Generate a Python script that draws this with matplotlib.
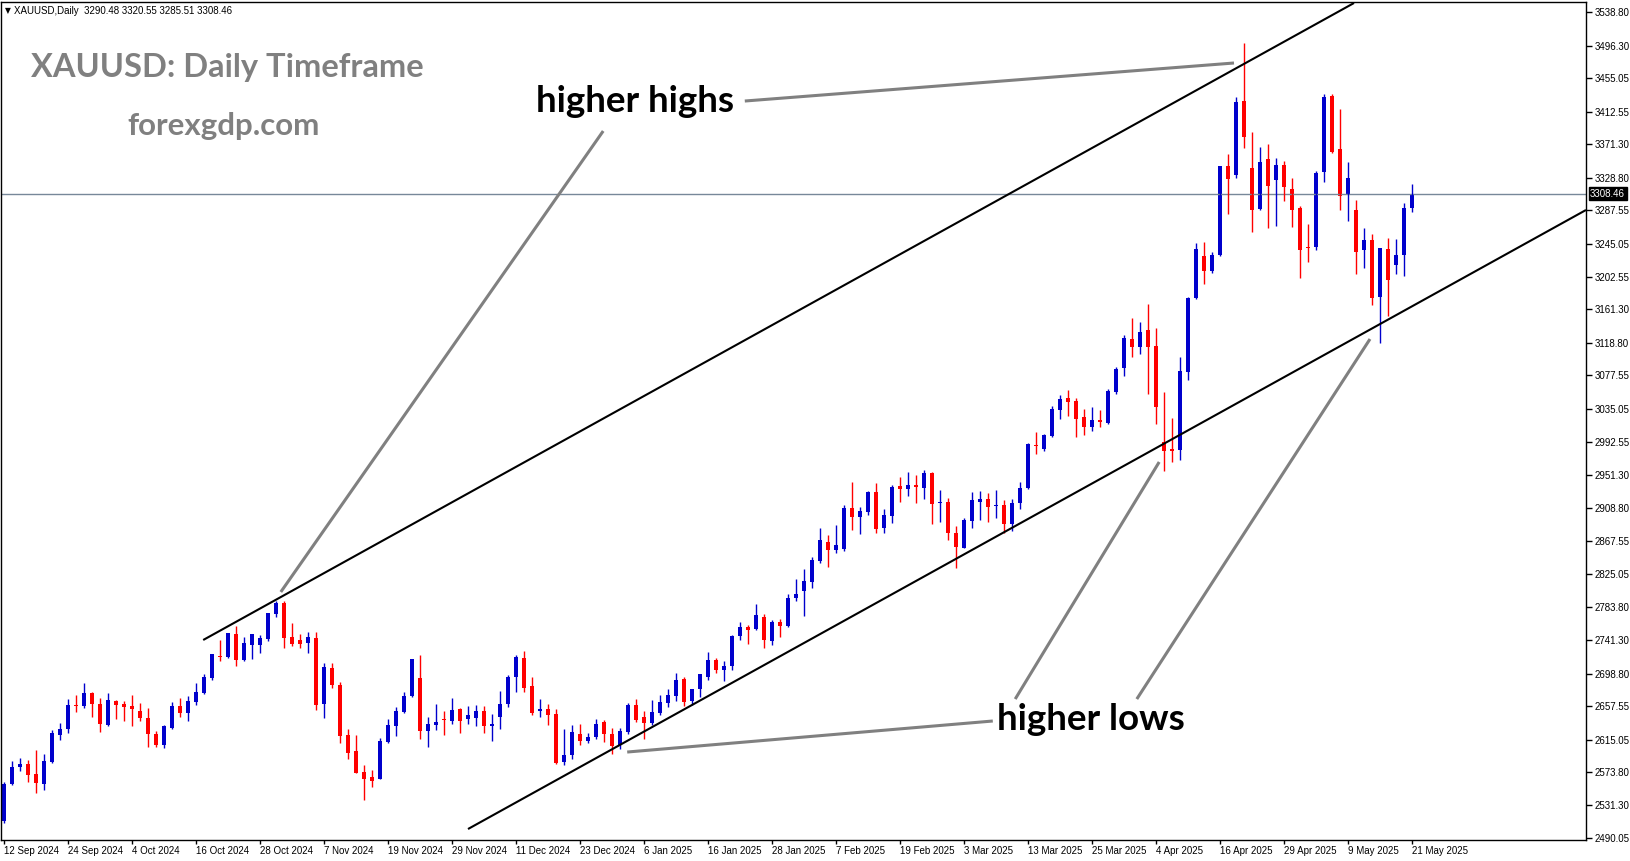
import numpy as np
import matplotlib.pyplot as plt

# XAUUSD daily candles, 12 Sep 2024 .. 21 May 2025
opens = [2511, 2558.6, 2580.6, 2584, 2571, 2559, 2586, 2621, 2628.8, 2659,
         2658, 2674, 2660, 2633.5, 2664, 2660, 2657.7, 2651.3, 2643, 2622.4,
         2608, 2629.7, 2657.7, 2649, 2662.7, 2674, 2692.7, 2721.5, 2719.9, 2749,
         2716.5, 2735.2, 2735, 2742.7, 2774.5, 2788.5, 2745, 2741, 2737.8, 2744,
         2660, 2706, 2684.5, 2620.8, 2600, 2573.5, 2567, 2564.6, 2612, 2632.2,
         2650, 2670, 2693, 2626, 2633.5, 2640.5, 2639, 2653.8, 2641, 2642.7,
         2651.3, 2632, 2643.7, 2660.6, 2694, 2718, 2683, 2651.3, 2653.8, 2647.5,
         2586.3, 2595, 2622, 2613, 2618, 2637, 2621.7, 2608, 2624.6, 2659,
         2643.7, 2636, 2648.7, 2661.8, 2670, 2692, 2664, 2679, 2694.6, 2716,
         2703.3, 2708.3, 2746.4, 2757.8, 2755, 2770.6, 2740.3, 2764.5, 2759.5, 2795,
         2803.6, 2815, 2841.5, 2865.6, 2855.4, 2856.7, 2908.8, 2897.4, 2904, 2929.4,
         2883.7, 2898.8, 2937, 2933, 2939, 2934.5, 2953.5, 2915, 2917.4, 2878,
         2858, 2893, 2917.4, 2920, 2912, 2912.4, 2889, 2916, 2934.2, 2989,
         2984, 3000.5, 3033.5, 3048.8, 3044.9, 3024.6, 3011.9, 3020.8, 3017, 3056.3,
         3086.8, 3123.6, 3113.5, 3135, 3115.3, 2992.9, 2983.5, 2982.8, 3081.7, 3175.7,
         3229, 3209.9, 3230.2, 3343.3, 3331.8, 3425.8, 3341, 3288.8, 3352.4, 3325.7,
         3344.6, 3314, 3290, 3240.5, 3240.5, 3335.8, 3432.2, 3365, 3307.7, 3287.5,
         3236.7, 3249.4, 3177, 3238, 3217.6, 3230.2, 3290.48]
highs = [2561, 2588, 2591.6, 2589, 2601.8, 2596.7, 2627, 2636, 2666.6, 2671.6,
         2687.1, 2675.7, 2667.9, 2674, 2665, 2664, 2671.6, 2661, 2655, 2625.7,
         2633.5, 2662.7, 2667.9, 2670, 2687, 2698, 2724, 2741.6, 2751, 2759.3,
         2745, 2749.5, 2748, 2775.7, 2791, 2791, 2763, 2749, 2751.8, 2751.8,
         2712, 2712, 2688, 2628.5, 2620.8, 2582.5, 2577, 2617, 2641, 2656,
         2675.7, 2717, 2722.5, 2643.7, 2660, 2651.3, 2667.9, 2654.5, 2657.7, 2659,
         2657.7, 2647.5, 2677, 2697, 2722, 2727.6, 2694, 2666.6, 2660, 2653.8,
         2628.5, 2633.5, 2634.8, 2623.4, 2641, 2640, 2629.7, 2629.7, 2661.8, 2666.6,
         2651.3, 2665.3, 2671.6, 2679, 2699.6, 2694.6, 2679.5, 2698.5, 2726, 2718.6,
         2714.8, 2747.7, 2764, 2760.4, 2787.4, 2774.4, 2767, 2768.2, 2800, 2819,
         2831.6, 2846.6, 2883.5, 2874.6, 2887.4, 2912.6, 2942.6, 2910, 2930.7, 2940.8,
         2907.6, 2938, 2948, 2955, 2951, 2957, 2955, 2931.9, 2922.5, 2886,
         2896, 2929.4, 2930.7, 2928, 2931.9, 2919, 2920, 2942, 2992, 3005.6,
         3003, 3038.6, 3052.6, 3058.9, 3048.8, 3034.8, 3037.3, 3033.5, 3060, 3088,
         3128.7, 3150.3, 3145.2, 3168, 3137.6, 3056.3, 3023, 3101, 3177, 3245.6,
         3247, 3234, 3343.3, 3358.5, 3430.9, 3500, 3386.7, 3367.7, 3371.5, 3353.7,
         3349.9, 3328.3, 3292.5, 3269.7, 3337, 3434.9, 3434.9, 3415.6, 3348.6, 3300,
         3264.6, 3257, 3239, 3252, 3250.7, 3296.3, 3320.55]
lows = [2509, 2557, 2575.5, 2561, 2547.5, 2551, 2584.9, 2614, 2623.8, 2650.4,
        2655.5, 2644, 2625, 2632, 2641, 2639, 2632, 2639, 2606, 2606,
        2604.7, 2628.4, 2644, 2639, 2659, 2673, 2691, 2715, 2719, 2709,
        2715, 2717, 2725, 2740, 2770.6, 2731, 2734, 2731, 2725, 2652.5,
        2643, 2680.6, 2611, 2590, 2572, 2538, 2554.5, 2564.6, 2610.7, 2619.5,
        2648.7, 2668.7, 2616, 2605.5, 2627, 2621, 2635, 2623, 2635, 2632,
        2623, 2613, 2628, 2656, 2675, 2675, 2646, 2643.7, 2633.5, 2584,
        2582.5, 2590, 2608, 2610.7, 2615.7, 2612, 2597, 2603.4, 2622, 2637.4,
        2616, 2633.5, 2646, 2656, 2664, 2657.7, 2659, 2669, 2690.8, 2699.6,
        2689, 2703.3, 2741.6, 2736.5, 2754, 2731, 2735, 2745.4, 2758, 2791,
        2772, 2808, 2839, 2833.7, 2851.7, 2854, 2880.8, 2876, 2900, 2877,
        2878, 2890, 2917, 2924, 2915, 2921, 2889, 2891.4, 2868, 2832.4,
        2858, 2883.7, 2893.7, 2891.4, 2896, 2878, 2880, 2908, 2933, 2977.8,
        2981.5, 2999, 3022, 3026, 2999, 3002, 3006.8, 3011.9, 3016, 3053.8,
        3076.6, 3100.8, 3104.6, 3053.8, 3015.7, 2956, 2967, 2970, 3071.5, 3174,
        3193.4, 3208, 3229, 3282.4, 3328, 3366, 3259.5, 3287.5, 3264.6, 3267,
        3298.9, 3266, 3201, 3221.4, 3236.7, 3323, 3359.7, 3287.5, 3273.3, 3207,
        3213.8, 3166.8, 3119, 3153, 3206, 3203.5, 3285.51]
closes = [2559, 2580.6, 2584, 2570.4, 2560, 2587.8, 2623.3, 2629, 2658.8, 2658,
          2674, 2660.6, 2635, 2665.3, 2659, 2656.8, 2653.8, 2642.8, 2622, 2608.5,
          2632, 2657.7, 2649, 2664, 2675.7, 2694, 2723.6, 2720.5, 2750.4, 2716.5,
          2737.8, 2749, 2744, 2775.7, 2788.5, 2744, 2736.5, 2736.5, 2745.5, 2658.8,
          2707, 2684.5, 2619.5, 2597.9, 2572, 2564.6, 2562, 2613, 2633.5, 2651.3,
          2670, 2717, 2626, 2635, 2637.4, 2639.5, 2652.6, 2639, 2645.6, 2651.3,
          2632, 2635, 2660.6, 2695, 2719.4, 2680, 2648.7, 2653.8, 2646, 2585,
          2595, 2624.6, 2613, 2618.2, 2634.8, 2622, 2607, 2625.7, 2659, 2640,
          2636, 2650, 2662.7, 2671.6, 2690.8, 2662.7, 2679, 2698, 2716, 2703.3,
          2708.3, 2746.4, 2757.8, 2754, 2773, 2741.6, 2764.5, 2759.5, 2795, 2800,
          2816.3, 2842.8, 2868, 2855.4, 2861.8, 2908.8, 2897.4, 2905, 2929.4, 2882.4,
          2900, 2935.6, 2933, 2939, 2935.6, 2953.5, 2914, 2917, 2876.8, 2859,
          2893.7, 2919, 2920, 2910, 2913.6, 2888.3, 2916, 2934.2, 2990.4, 2987.9,
          3001.8, 3034.8, 3047.5, 3043.7, 3022, 3011.9, 3020.8, 3018.3, 3057.6, 3085.5,
          3124.9, 3113.5, 3132.5, 3113.5, 3037, 2981.5, 2982, 3083, 3175.7, 3237.9,
          3209.9, 3230.2, 3343.3, 3326.7, 3424.5, 3380, 3287.5, 3348.6, 3318, 3344.6,
          3316.7, 3287.5, 3236.7, 3239, 3334.5, 3431, 3361, 3305, 3328, 3234,
          3249.4, 3175.7, 3239, 3198.6, 3230.2, 3290, 3308.46]

date_labels = ['12 Sep 2024', '24 Sep 2024', '4 Oct 2024', '16 Oct 2024', '28 Oct 2024',
               '7 Nov 2024', '19 Nov 2024', '29 Nov 2024', '11 Dec 2024', '23 Dec 2024',
               '6 Jan 2025', '16 Jan 2025', '28 Jan 2025', '7 Feb 2025', '19 Feb 2025',
               '3 Mar 2025', '13 Mar 2025', '25 Mar 2025', '4 Apr 2025', '16 Apr 2025',
               '29 Apr 2025', '9 May 2025', '21 May 2025']
price_ticks = [3538.80, 3496.30, 3455.05, 3412.55, 3371.30, 3328.80, 3287.55, 3245.05,
               3202.55, 3161.30, 3118.80, 3077.55, 3035.05, 2992.55, 2951.30, 2908.80,
               2867.55, 2825.05, 2783.80, 2741.30, 2698.80, 2657.55, 2615.05, 2573.80,
               2531.30, 2490.05]
last_price = 3308.46

# channel lines and pointer lines as (bar, price) end points
upper_channel = [(24.9, 2741.5), (168.75, 3550.6)]
lower_channel = [(58.0, 2501.4), (197.75, 3287.7)]
pointers = [
    [(92.6, 3426.1), (153.75, 3474.4)],
    [(74.9, 3388.0), (34.6, 2802.5)],
    [(123.6, 2638.6), (77.9, 2599.2)],
    [(126.4, 2666.5), (144.4, 2967.6)],
    [(141.6, 2666.5), (170.75, 3123.8)],
]

W, H = 1631, 861
BLUE = '#0000CC'
RED = '#FF0000'
SMALL = 'Liberation Sans'

fig = plt.figure(figsize=(W / 100, H / 100), dpi=100)
fig.patch.set_facecolor('white')
ax = fig.add_axes([1 / W, (H - 840) / H, 1585 / W, 838 / H])

o = np.array(opens)
h = np.array(highs)
l = np.array(lows)
c = np.array(closes)
idx = np.arange(len(o))
col = np.where(c >= o, BLUE, RED)

ax.vlines(idx, l, h, colors=col, linewidth=1.0)
body = np.maximum(np.abs(c - o), 1.3)
ax.bar(idx, body, bottom=np.minimum(o, c), width=0.62, color=col, linewidth=0)

ax.axhline(last_price, color='#778899', linewidth=1.0, zorder=1)

for (x0, y0), (x1, y1) in [upper_channel, lower_channel]:
    ax.plot([x0, x1], [y0, y1], color='black', linewidth=1.5, solid_capstyle='butt')
for (x0, y0), (x1, y1) in pointers:
    ax.plot([x0, x1], [y0, y1], color='#808080', linewidth=2.2, solid_capstyle='butt')

ax.set_xlim(-0.375, 197.75)
ax.set_ylim(2487.46, 3551.88)

ax.yaxis.tick_right()
ax.set_yticks(price_ticks)
ax.set_yticklabels(['%.2f' % p for p in price_ticks], family=SMALL)
ax.tick_params(axis='y', direction='out', length=4, width=1, pad=2, labelsize=7)
ax.set_xticks(idx[::8])
ax.set_xticklabels(date_labels, ha='left', family=SMALL)
ax.tick_params(axis='x', direction='out', length=3, width=1, pad=1.5, labelsize=7)
for s in ax.spines.values():
    s.set_color('black')
    s.set_linewidth(1.0)

ax.annotate('%.2f' % last_price, xy=(1.0, last_price), xycoords=('axes fraction', 'data'),
            xytext=(3, 0), textcoords='offset points', va='center', ha='left',
            fontsize=7, color='white', family=SMALL,
            bbox=dict(boxstyle='square,pad=0.15', facecolor='black', edgecolor='black'))

def fx(px):
    return px / W

def fy(py):
    return 1 - py / H

fig.text(fx(5), fy(10.5), '\u25bc', fontsize=5.5, va='center', ha='left', color='black')
fig.text(fx(14), fy(10.5), 'XAUUSD,Daily  3290.48 3320.55 3285.51 3308.46',
         fontsize=7, va='center', ha='left', color='black', family=SMALL)

fig.text(fx(31), fy(68), 'XAUUSD: Daily Timeframe', family='Lato', weight='bold',
         fontsize=23.5, color='#808080', va='center', ha='left')
fig.text(fx(127), fy(126), 'forexgdp.com', family='Lato', weight='bold',
         fontsize=22.5, color='#808080', va='center', ha='left')
fig.text(fx(536), fy(101), 'higher highs', family='Lato', weight='bold',
         fontsize=26.5, color='black', va='center', ha='left')
fig.text(fx(997), fy(719), 'higher lows', family='Lato', weight='bold',
         fontsize=26.5, color='black', va='center', ha='left')

fig.savefig('out.png', dpi=100)
